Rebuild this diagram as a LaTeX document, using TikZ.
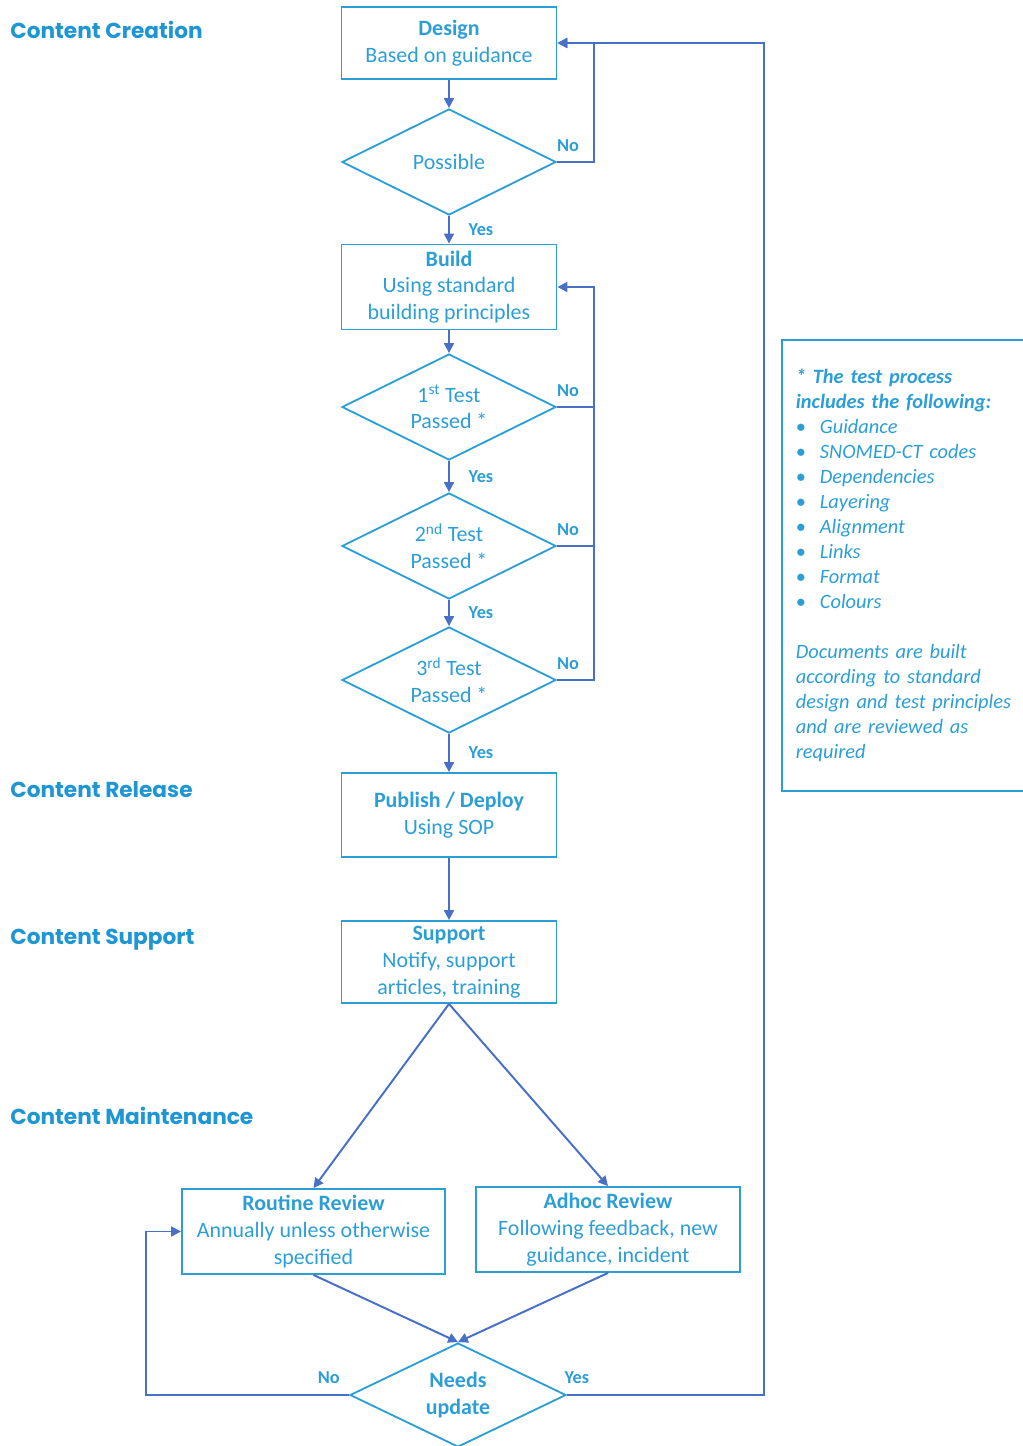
\documentclass[tikz,border=0pt]{standalone}
\usepackage{fontspec}
\setmainfont{Carlito}
\newfontfamily\headfont{Poppins}
\usetikzlibrary{shapes.geometric,arrows.meta}
\definecolor{boxblue}{RGB}{44,158,214}
\definecolor{linkblue}{RGB}{72,112,198}
\definecolor{headblue}{RGB}{30,150,212}
\begin{document}
\begin{tikzpicture}
  [x=0.025cm,y=-0.025cm,
   box/.style={draw=boxblue,line width=1.3pt,text=boxblue,minimum width=5.375cm,align=center,inner sep=2pt,font=\fontsize{15.6}{19}\selectfont},
   decision/.style={diamond,draw=boxblue,line width=1.3pt,text=boxblue,minimum width=5.35cm,minimum height=2.65cm,inner xsep=0pt,inner ysep=-10pt,align=center,font=\fontsize{15.6}{19}\selectfont},
   link/.style={draw=linkblue,line width=1.4pt,-{Triangle[length=7pt,width=7pt]}},
   wire/.style={draw=linkblue,line width=1.4pt},
   lbl/.style={text=boxblue,font=\fontsize{13}{15}\selectfont\bfseries},
   head/.style={anchor=west,text=headblue,inner sep=0pt,font=\headfont\fontsize{15.4}{17}\selectfont\bfseries}]
  \useasboundingbox (0,0) rectangle (1022,1446);
  \node[head] (creation) at (10,30) {Content Creation};
  \node[head] (release) at (10,790) {Content Release};
  \node[head] (supporthead) at (10,940) {Content Support};
  \node[head] (maintenance) at (10,1116) {Content Maintenance};
  \node[box,minimum height=1.8cm] (design) at (449,43) {\textbf{Design}\\Based on guidance};
  \node[decision] (possible) at (449,162) {Possible};
  \node[box,minimum height=2.125cm] (build) at (449,287) {\textbf{Build}\\Using standard\\building principles};
  \node[decision] (test1) at (449,407) {1\textsuperscript{st} Test\\Passed *};
  \node[decision] (test2) at (449,546) {2\textsuperscript{nd} Test\\Passed *};
  \node[decision] (test3) at (449,680) {3\textsuperscript{rd} Test\\Passed *};
  \node[box,minimum height=2.1cm] (publish) at (449,815) {\textbf{Publish / Deploy}\\Using SOP};
  \node[box,minimum height=2.05cm] (support) at (449,962) {\textbf{Support}\\Notify, support\\articles, training};
  \node[box,minimum width=6.575cm,minimum height=2.125cm] (routine) at (313.5,1231.5) {\textbf{Routine Review}\\Annually unless otherwise\\specified};
  \node[box,minimum width=6.6cm,minimum height=2.125cm] (adhoc) at (608,1229.5) {\textbf{Adhoc Review}\\Following feedback, new\\guidance, incident};
  \node[decision,minimum width=5.4cm,minimum height=2.6cm,font=\fontsize{15.6}{19}\selectfont\bfseries] (needs) at (458,1395) {Needs\\update};
  \node[draw=boxblue,line width=1.3pt,text=boxblue,anchor=north west,minimum height=11.275cm,
        inner xsep=0.35cm,text width=6.6cm,align=left,font=\fontsize{14.5}{17.8}\selectfont\itshape] (note) at (781,339)
    {\textbf{* The test process}\\
     \textbf{includes the following:}\\
     \makebox[0.6cm][l]{\upshape\textbullet}Guidance\\
     \makebox[0.6cm][l]{\upshape\textbullet}SNOMED-CT codes\\
     \makebox[0.6cm][l]{\upshape\textbullet}Dependencies\\
     \makebox[0.6cm][l]{\upshape\textbullet}Layering\\
     \makebox[0.6cm][l]{\upshape\textbullet}Alignment\\
     \makebox[0.6cm][l]{\upshape\textbullet}Links\\
     \makebox[0.6cm][l]{\upshape\textbullet}Format\\
     \makebox[0.6cm][l]{\upshape\textbullet}Colours\\[17.8pt]
     Documents are built\\
     according to standard\\
     design and test principles\\
     and are reviewed as\\
     required};
  \draw[link] (design) -- (possible);
  \draw[link] (possible) -- node[lbl,right=10pt]{Yes} (build);
  \draw[link] (build) -- (test1);
  \draw[link] (test1) -- node[lbl,right=10pt]{Yes} (test2);
  \draw[link] (test2) -- node[lbl,right=10pt]{Yes} (test3);
  \draw[link] (test3) -- node[lbl,right=10pt]{Yes} (publish);
  \draw[link] (publish) -- (support);
  \draw[link] (possible.east) -- node[lbl,pos=.3,above=3pt]{No} ++(37,0) |- (design.east);
  \draw[wire] (test1.east) -- node[lbl,pos=.3,above=3pt]{No} ++(37,0);
  \draw[wire] (test2.east) -- node[lbl,pos=.3,above=3pt]{No} ++(37,0);
  \draw[link] (test3.east) -- node[lbl,pos=.3,above=3pt]{No} ++(37,0) |- (build.east);
  \draw[link] (support.south) -- (routine.north);
  \draw[link] (support.south) -- (adhoc.north);
  \draw[link] (routine.south) -- (needs.north);
  \draw[link] (adhoc.south) -- (needs.north);
  \draw[link] (needs.west) -- node[lbl,pos=.1,above=4pt]{No} ++(-203,0) |- (routine.west);
  \draw[link] (needs.east) -- node[lbl,pos=.05,above=4pt]{Yes} ++(197,0) |- (design.east);
\end{tikzpicture}
\end{document}
